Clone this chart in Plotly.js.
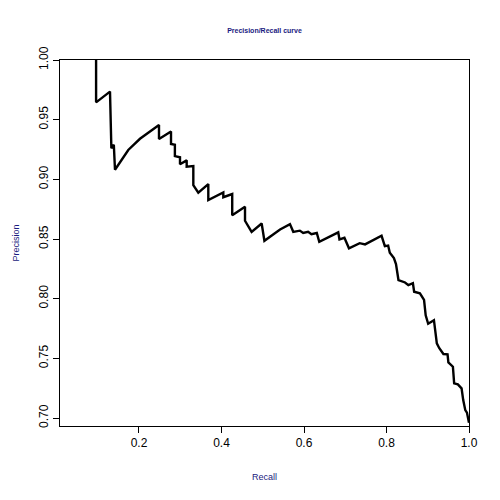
<!DOCTYPE html>
<html>
<head>
<meta charset="utf-8">
<script src="https://cdn.plot.ly/plotly-3.0.1.min.js"></script>
<style>html,body{margin:0;padding:0;background:#fff}#graph{width:500px;height:500px}</style>
</head>
<body>
<div id="graph"></div>
<script>
// Recall / precision vertices
var recall = [0.096, 0.096, 0.1297, 0.131, 0.133, 0.139, 0.1418, 0.174, 0.2024, 0.2485, 0.2485, 0.2776, 0.2776,
  0.287, 0.287, 0.2994, 0.2994, 0.3156, 0.3156, 0.3317, 0.3317, 0.3438, 0.368, 0.368, 0.4044, 0.4044, 0.426, 0.426,
  0.457, 0.457, 0.473, 0.4974, 0.504, 0.542, 0.566, 0.574, 0.59, 0.598, 0.61, 0.618, 0.631, 0.637, 0.683, 0.686,
  0.698, 0.709, 0.735, 0.748, 0.788, 0.796, 0.804, 0.808, 0.818, 0.823, 0.829, 0.845, 0.853, 0.864, 0.867, 0.881,
  0.888, 0.891, 0.895, 0.901, 0.915, 0.922, 0.928, 0.938, 0.948, 0.95, 0.961, 0.964, 0.973, 0.982, 0.986, 0.991,
  0.995, 1.0];
var precision = [1.0, 0.9645, 0.9735, 0.949, 0.926, 0.929, 0.908, 0.9246, 0.934, 0.9455, 0.9338, 0.940, 0.9296,
  0.929, 0.9195, 0.9185, 0.9126, 0.9159, 0.9106, 0.9112, 0.8952, 0.8888, 0.896, 0.8827, 0.889, 0.885, 0.8877, 0.870,
  0.877, 0.8653, 0.856, 0.863, 0.8485, 0.858, 0.8625, 0.856, 0.857, 0.855, 0.856, 0.854, 0.855, 0.8477, 0.8556, 0.8497,
  0.851, 0.8422, 0.8465, 0.8455, 0.8527, 0.844, 0.8445, 0.8385, 0.834, 0.829, 0.8156, 0.8136, 0.8114, 0.813, 0.8058,
  0.8045, 0.801, 0.799, 0.786, 0.779, 0.782, 0.7625, 0.7585, 0.7536, 0.7534, 0.7466, 0.7430, 0.729, 0.7282, 0.7248,
  0.715, 0.7066, 0.7045, 0.696];

var xTicks = [0.2, 0.4, 0.6, 0.8, 1.0];
var yTicks = [0.70, 0.75, 0.80, 0.85, 0.90, 0.95, 1.00];

function plot() {
    const trace = {
        x: recall,
        y: precision,
        mode: 'lines',
        type: 'scatter',
        line: { color: '#000', width: 2.4 }
    };

    const axisBase = {
        showgrid: false,
        zeroline: false,
        showline: true,
        linecolor: '#000',
        linewidth: 1,
        mirror: true,
        ticks: 'outside',
        ticklen: 6,
        tickcolor: '#000',
        tickfont: { family: 'Liberation Sans, Arial', size: 12, color: '#000' }
    };

    const layout = {
        width: 500,
        height: 500,
        margin: { l: 60, r: 31, t: 60, b: 74 },
        paper_bgcolor: '#fff',
        plot_bgcolor: '#fff',
        showlegend: false,
        title: {
            text: '<b>Precision/Recall curve</b>',
            font: { family: 'Liberation Sans, Arial', size: 7, color: '#1a1a80' },
            x: 0.5, xref: 'paper', y: 0.938, yanchor: 'middle'
        },
        xaxis: Object.assign({}, axisBase, {
            range: [0.0085, 1.0],
            tickvals: xTicks,
            tickformat: '.1f',
            title: { text: 'Recall', font: { family: 'Liberation Sans, Arial', size: 9, color: '#1a1a80' }, standoff: 24 }
        }),
        yaxis: Object.assign({}, axisBase, {
            range: [0.6933, 1.0],
            tickvals: yTicks,
            tickformat: '.2f',
            tickangle: -90,
            title: { text: 'Precision', font: { family: 'Liberation Sans, Arial', size: 9, color: '#1a1a80' }, standoff: 16 }
        })
    };

    Plotly.newPlot('graph', [trace], layout, { displayModeBar: false, staticPlot: true });
}

window.addEventListener("load", plot, false);
</script>
</body>
</html>
